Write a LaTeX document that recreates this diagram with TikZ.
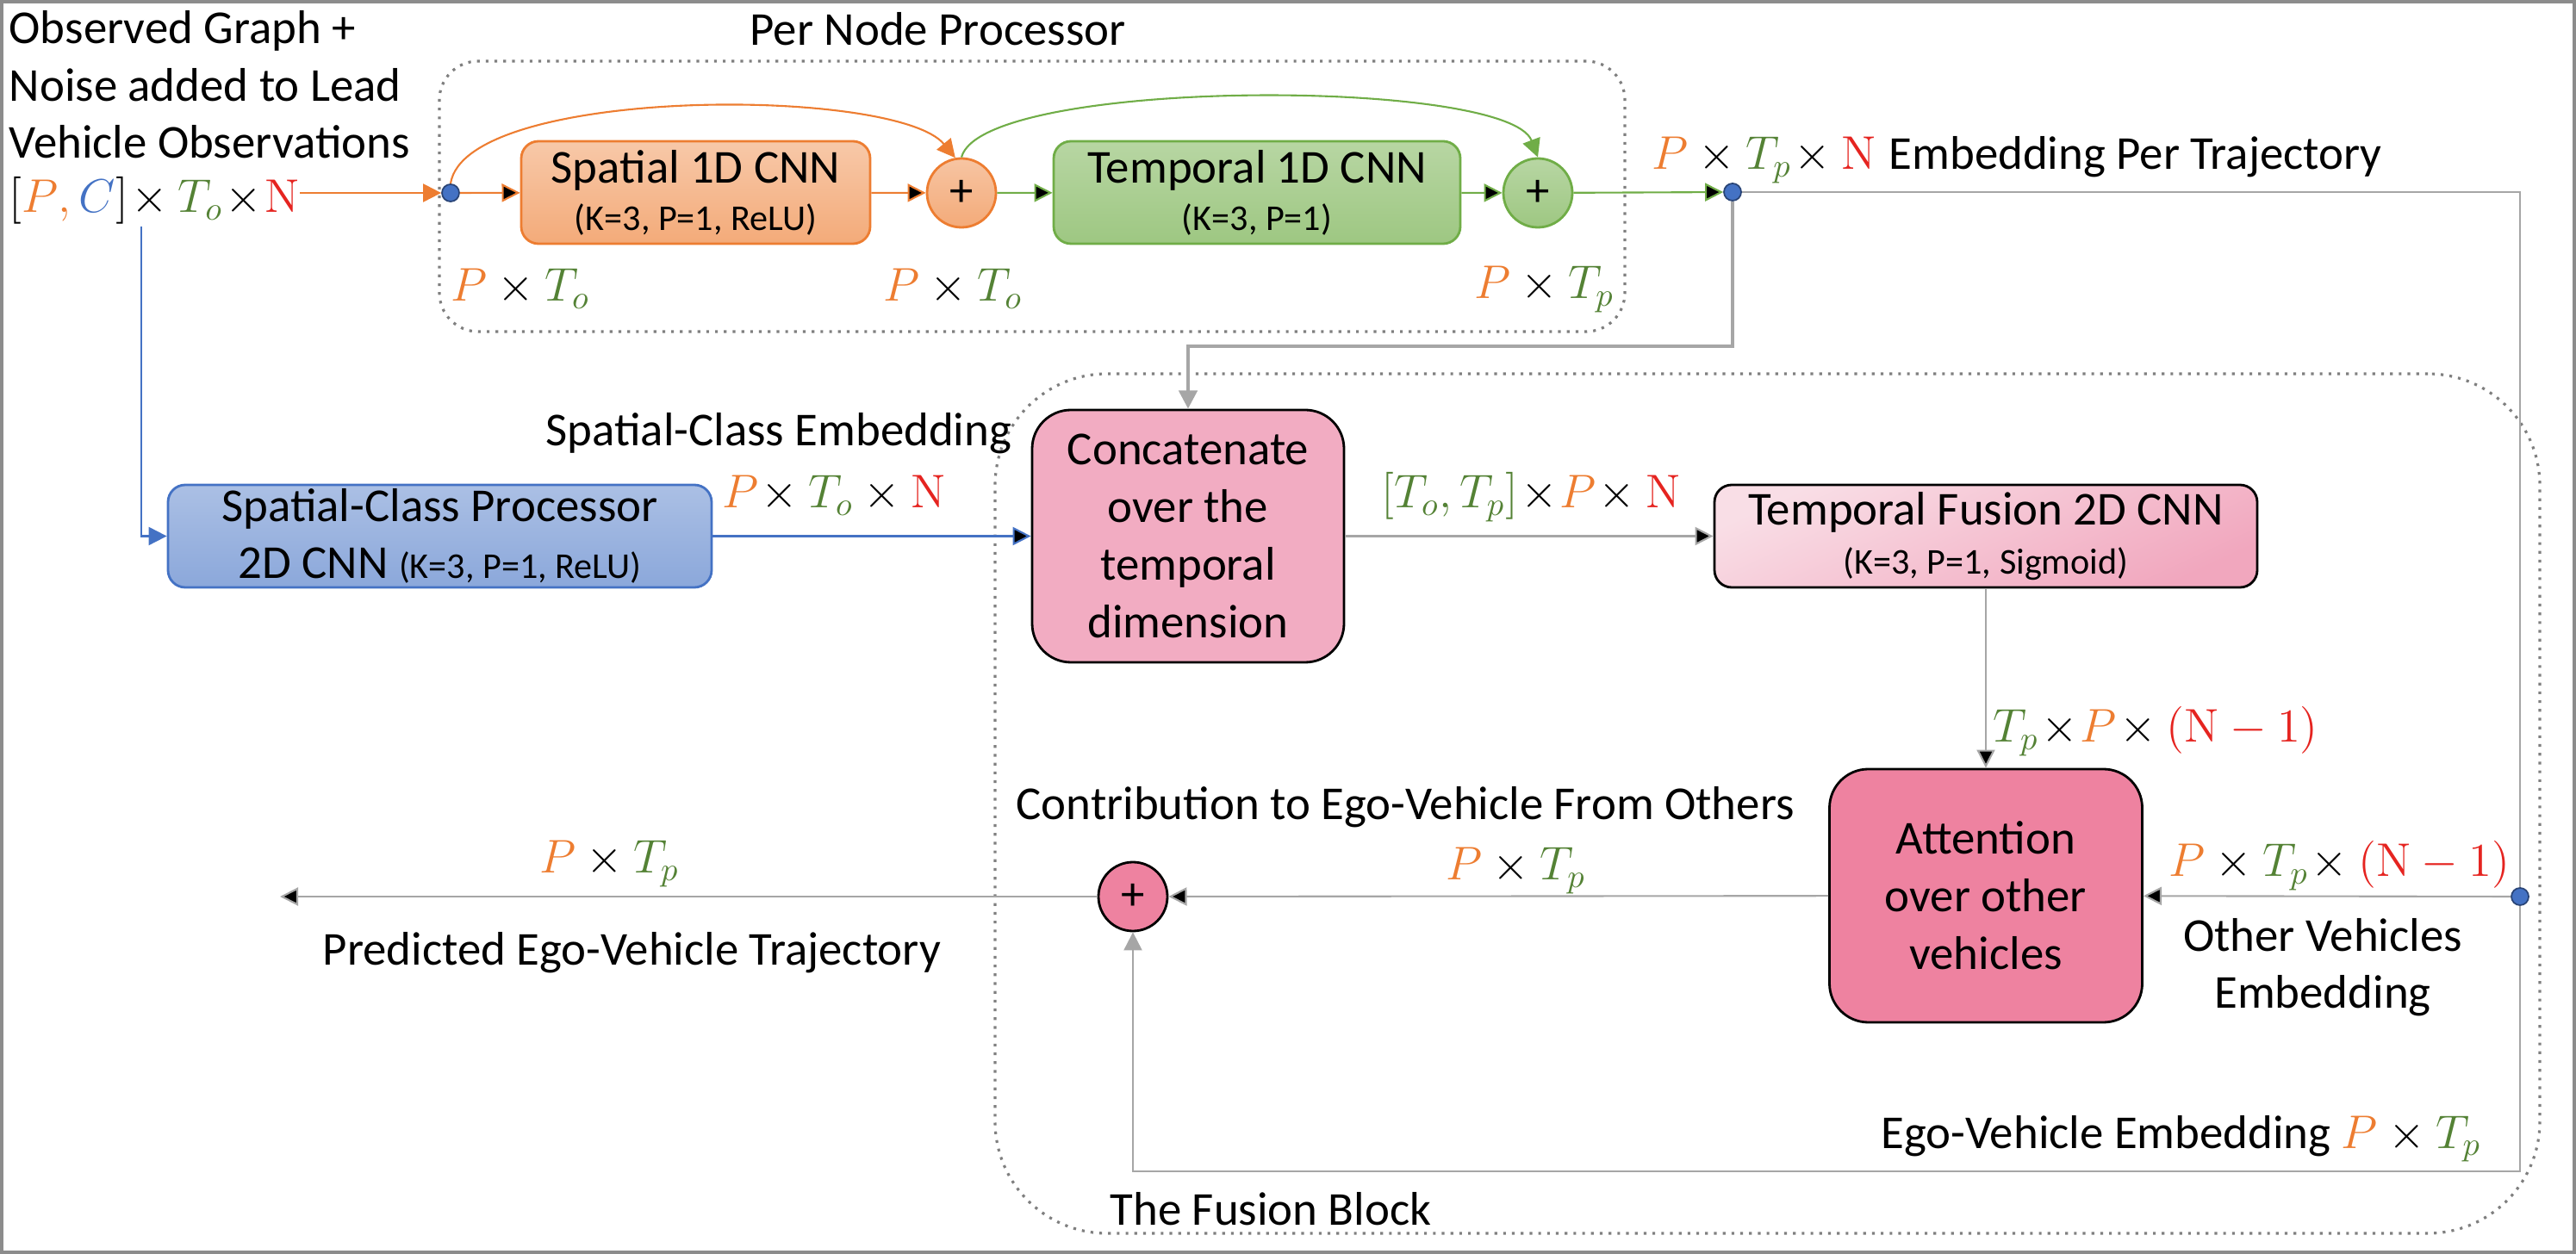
\RequirePackage{fix-cm}
\documentclass[tikz,border=0pt]{standalone}
\usepackage[no-math]{fontspec}
\setmainfont{Carlito}
\usetikzlibrary{arrows.meta}

\definecolor{corange}{HTML}{ED7D31}
\definecolor{cblue}{HTML}{4472C4}
\definecolor{cgreen}{HTML}{70AD47}
\definecolor{cmgreen}{HTML}{548235}
\definecolor{cred}{HTML}{E52420}
\definecolor{cgray}{HTML}{A6A6A6}
\definecolor{cframe}{HTML}{8C8C8C}
\definecolor{cdots}{HTML}{7F7F7F}
\definecolor{cpink}{HTML}{F2ACC2}
\definecolor{cdeep}{HTML}{EE82A0}
\definecolor{clight}{HTML}{F9DEE6}
\definecolor{cmid}{HTML}{F1A7BE}

\newcommand{\mainsize}{\fontsize{15.6pt}{19pt}\selectfont}
\newcommand{\kpsize}{\fontsize{12pt}{14pt}\selectfont}
\newcommand{\vP}{{\color{corange}P}}
\newcommand{\vC}{{\color{cblue}C}}
\newcommand{\vTo}{{\color{cmgreen}T_o}}
\newcommand{\vTp}{{\color{cmgreen}T_p}}
\newcommand{\vN}{{\color{cred}\mathrm{N}}}
\newcommand{\vNm}{{\color{cred}(\mathrm{N}-1)}}

\tikzset{
  lbl/.style={inner sep=0pt,anchor=base west},
  cnnbox/.style={shape=rectangle,rounded corners=0.2cm,align=center,inner sep=0pt,line width=0.8pt,minimum height=1.19cm},
  bigbox/.style={shape=rectangle,rounded corners=0.45cm,align=center,inner sep=0pt,draw=black,line width=0.8pt},
  addnode/.style={shape=circle,minimum size=0.8cm,inner sep=0pt,line width=0.8pt},
  dotnode/.style={shape=circle,minimum size=0.2cm,inner sep=0pt,fill=cblue,draw=cblue!60!black,line width=0.5pt},
  groupbox/.style={shape=rectangle,draw=cdots,dotted,line width=0.9pt,inner sep=0pt},
  arr/.style={-{Triangle[length=6pt,width=6pt]}},
}

\begin{document}
\begin{tikzpicture}[every node/.style={font=\mainsize}]
\useasboundingbox (0,0) rectangle (29.90,-14.56);
\draw[draw=cframe,line width=0.04cm] (0.02,-0.02) rectangle (29.88,-14.54);

\node[groupbox,rounded corners=0.45cm,minimum width=13.76cm,minimum height=3.14cm] (pnp) at (11.98,-2.28) {};
\node[groupbox,rounded corners=1.3cm,minimum width=17.93cm,minimum height=9.98cm] (fus) at (20.515,-9.33) {};

\node[lbl,align=left] (obs) at (0.10,-1.84) {Observed Graph +\\Noise added to Lead\\Vehicle Observations};
\node[lbl] (inp) at (0.10,-2.47) {$[\vP{\color{corange},}\,\vC]\!\times\vTo\!\times\!\vN$};
\coordinate (inpd) at (1.64,-2.63);
\node[lbl] (pnpt) at (8.70,-0.53) {Per Node Processor};
\node[dotnode] (in1) at (5.23,-2.24) {};
\node[cnnbox,draw=corange,top color=corange!42,bottom color=corange!65,minimum width=4.05cm] (sp1) at (8.075,-2.235) {Spatial 1D CNN\\[-3.4pt]{\kpsize (K=3, P=1, ReLU)}};
\node[addnode,draw=corange,top color=corange!45,bottom color=corange!65] (add1) at (11.16,-2.24) {+};
\node[cnnbox,draw=cgreen,top color=cgreen!50,bottom color=cgreen!68,minimum width=4.72cm] (tp1) at (14.59,-2.235) {Temporal 1D CNN\\[-3.4pt]{\kpsize (K=3, P=1)}};
\node[addnode,draw=cgreen,top color=cgreen!50,bottom color=cgreen!68] (add2) at (17.85,-2.24) {+};
\node[dotnode] (emb) at (20.11,-2.23) {};
\node[lbl] (d1) at (5.23,-3.50) {$\vP\times\vTo$};
\node[lbl] (d2) at (10.25,-3.50) {$\vP\times\vTo$};
\node[lbl] (d3) at (17.11,-3.47) {$\vP\times\vTp$};
\node[lbl] (d4) at (19.17,-1.97) {$\vP\times\vTp\!\times\vN$};
\node[lbl] (embt) at (21.92,-1.97) {Embedding Per Trajectory};

\node[cnnbox,draw=cblue,top color=cblue!45,bottom color=cblue!62,minimum width=6.31cm] (scp) at (5.105,-6.225) {Spatial-Class Processor\\2D CNN {\kpsize (K=3, P=1, ReLU)}};
\node[lbl,anchor=base east] (sce) at (11.75,-5.18) {Spatial-Class Embedding};
\node[lbl] (d5) at (8.38,-5.90) {$\vP\!\times\vTo\times\vN$};
\node[bigbox,fill=cpink,minimum width=3.62cm,minimum height=2.93cm] (cat) at (13.79,-6.225) {Concatenate\\over the\\temporal\\dimension};
\coordinate (catin) at (13.79,-4.02);
\node[lbl] (d6) at (16.03,-5.90) {${\color{cmgreen}[T_o,T_p]}\!\times\!\vP\!\times\vN$};
\node[cnnbox,draw=black,top color=clight,bottom color=cmid,shading angle=25,minimum width=6.30cm] (tfu) at (23.05,-6.225) {Temporal Fusion 2D CNN\\[-2.8pt]{\kpsize (K=3, P=1, Sigmoid)}};
\node[lbl] (d7) at (23.13,-8.62) {$\vTp\!\times\!\vP\!\times\vNm$};

\node[bigbox,fill=cdeep,minimum width=3.63cm,minimum height=2.94cm] (att) at (23.05,-10.40) {Attention\\over other\\vehicles};
\node[dotnode] (oth) at (29.25,-10.41) {};
\node[lbl] (d8) at (25.17,-10.18) {$\vP\times\vTp\!\times\vNm$};
\node[inner sep=0pt,anchor=base,align=center] (otht) at (26.96,-11.71) {Other Vehicles\\Embedding};
\node[addnode,draw=black,fill=cdeep] (add3) at (13.15,-10.41) {+};
\node[lbl] (d9) at (16.78,-10.22) {$\vP\times\vTp$};
\node[lbl] (cont) at (11.79,-9.52) {Contribution to Ego-Vehicle From Others};
\coordinate (outc) at (3.25,-10.41);
\node[lbl] (d10) at (6.26,-10.14) {$\vP\times\vTp$};
\node[lbl] (pred) at (3.74,-11.21) {Predicted Ego-Vehicle Trajectory};
\coordinate (egoc) at (29.25,-13.60);
\node[lbl] (egot) at (21.83,-13.33) {Ego-Vehicle Embedding $\vP\times\vTp$};
\node[lbl] (fust) at (12.88,-14.22) {The Fusion Block};

\draw [arr,draw=corange,fill=corange,line width=0.6pt] (inp.east |- in1) -- (in1.west);
\path [arr,draw=corange,line width=0.6pt] (in1) edge node {} (sp1);
\path [arr,draw=corange,line width=0.6pt] (sp1) edge node {} (add1);
\path [arr,draw=cgreen,line width=0.6pt] (add1) edge node {} (tp1);
\path [arr,draw=cgreen,line width=0.6pt] (tp1) edge node {} (add2);
\path [arr,draw=cgreen,line width=0.6pt] (add2) edge node {} (emb);
\draw [arr,draw=corange,line width=0.6pt] (in1.north) .. controls (5.4,-1.0) and (10.4,-1.0) .. (add1.100);
\draw [arr,draw=cgreen,line width=0.6pt] (add1.north) .. controls (11.4,-0.9) and (17.5,-0.9) .. (add2.north);
\draw [arr,draw=cblue,line width=0.6pt] (inpd) |- (scp.west);
\path [arr,draw=cblue,line width=0.6pt] (scp) edge node {} (cat);
\draw [arr,draw=cgray,line width=1.2pt] (emb) |- (catin) -- (cat.north);
\path [arr,draw=cgray,line width=0.6pt] (cat) edge node {} (tfu);
\path [arr,draw=cgray,line width=0.6pt] (tfu) edge node {} (att);
\draw [draw=cgray,line width=0.6pt] (emb) -| (oth);
\path [arr,draw=cgray,line width=0.6pt] (oth) edge node {} (att);
\path [arr,draw=cgray,line width=0.6pt] (att) edge node {} (add3);
\path [arr,draw=cgray,line width=0.6pt] (add3) edge node {} (outc);
\draw [arr,draw=cgray,line width=0.6pt] (oth) -- (egoc) -| (add3);
\end{tikzpicture}
\end{document}
